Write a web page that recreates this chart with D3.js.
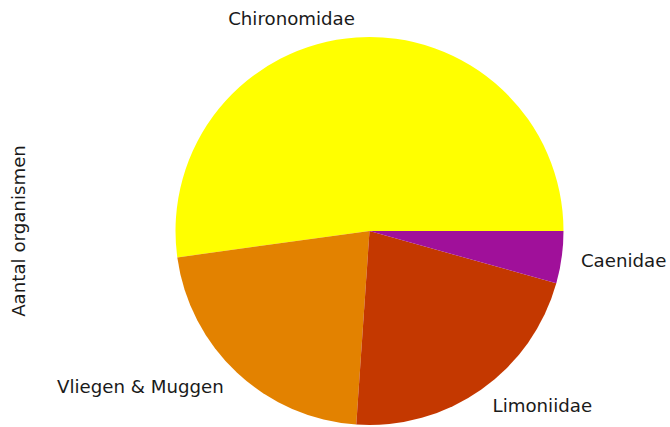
<!DOCTYPE html>
<html>
<head>
<meta charset="utf-8">
<script src="https://cdn.jsdelivr.net/npm/d3@7"></script>
<style>
  html, body { margin: 0; padding: 0; background: #fff; }
  svg { display: block; }
  text { font-family: "DejaVu Sans", sans-serif; fill: #1a1a1a; }
</style>
</head>
<body>
<svg id="chart" width="670" height="427"></svg>
<script>
// Organism counts per family
const categories = ["Chironomidae", "Vliegen & Muggen", "Limoniidae", "Caenidae"];
const counts = [24, 10, 10, 2];
const sliceColors = ["#ffff00", "#e38200", "#c43800", "#a0109a"];
const yLabel = "Aantal organismen";

const width = 670, height = 427;
const cx = 369.5, cy = 231, radius = 194;
const fontSize = 18.2;

const svg = d3.select("#chart");
const g = svg.append("g").attr("transform", `translate(${cx},${cy})`);

// Counter-clockwise from 3 o'clock (d3 angles run clockwise from 12 o'clock)
const pie = d3.pie()
  .sort(null)
  .startAngle(Math.PI / 2)
  .endAngle(Math.PI / 2 - 2 * Math.PI);

const arcs = pie(counts);
const arc = d3.arc().innerRadius(0).outerRadius(radius);

g.selectAll("path.slice")
  .data(arcs)
  .join("path")
  .attr("class", "slice")
  .attr("d", arc)
  .attr("fill", (d, i) => sliceColors[i]);

// Labels at 1.1 × radius on each slice's mid angle
g.selectAll("text.label")
  .data(arcs)
  .join("text")
  .attr("class", "label")
  .each(function (d, i) {
    const a = (d.startAngle + d.endAngle) / 2;
    const x = 1.1 * radius * Math.sin(a);
    const y = -1.1 * radius * Math.cos(a);
    d3.select(this)
      .attr("x", x)
      .attr("y", y)
      .attr("dominant-baseline", "central")
      .attr("text-anchor", x < 0 ? "end" : "start")
      .style("font-size", fontSize + "px")
      .text(categories[i]);
  });

svg.append("text")
  .attr("transform", `translate(18,${cy}) rotate(-90)`)
  .attr("text-anchor", "middle")
  .attr("dominant-baseline", "central")
  .style("font-size", fontSize + "px")
  .text(yLabel);
</script>
</body>
</html>
